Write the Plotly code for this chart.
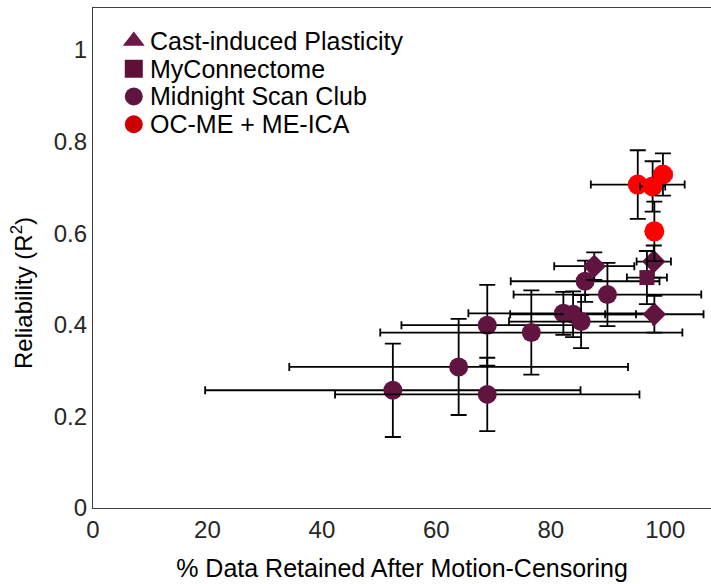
import plotly.graph_objects as go

# ---- data ----
msc_x = [52.4, 63.9, 68.9, 68.9, 76.6, 82.2, 83.9, 85.3, 86.0, 89.9]
msc_y = [0.257, 0.308, 0.248, 0.399, 0.383, 0.425, 0.423, 0.407, 0.495, 0.466]
msc_xerr = [32.8, 29.6, 26.6, 15.0, 26.4, 16.6, 11.0, 12.6, 13.0, 16.4]
msc_yerr = [0.102, 0.105, 0.080, 0.088, 0.092, 0.047, 0.050, 0.058, 0.045, 0.069]

cast_x = [87.6, 98.0, 98.1]
cast_y = [0.528, 0.538, 0.423]
cast_xerr = [7.0, 3.0, 8.6]
cast_yerr = [0.030, 0.035, 0.040]

myc_x = [96.8]
myc_y = [0.503]
myc_xerr = [3.5]
myc_yerr = [0.058]

me_x = [95.2, 97.8, 99.6, 98.1]
me_y = [0.706, 0.702, 0.728, 0.604]
me_xerr = [8.2, 2.2, 1.5, 1.0]
me_yerr = [0.075, 0.055, 0.046, 0.065]

legend_names = ["Cast-induced Plasticity", "MyConnectome", "Midnight Scan Club", "OC-ME + ME-ICA"]
legend_symbols = ["triangle-up", "square", "circle", "circle"]
legend_colors = ["#6a1848", "#5e1038", "#5f1540", "#cc0000"]
legend_sizes = [19, 18, 18, 18]

x_ticks = [0, 20, 40, 60, 80, 100]
y_ticks = [0, 0.2, 0.4, 0.6, 0.8, 1]
y_ticktext = ["0", "0.2", "0.4", "0.6", "0.8", "1"]

PURPLE = "#621440"
RED = "#ff0000"
FONT = "Liberation Sans, Arial, Helvetica, sans-serif"

# legend layout (fractions of the plot area)
LEG_MX = 0.066
LEG_TX = 0.0955
LEG_Y0 = 0.934
LEG_STEP = 0.0555

fig = go.Figure()

def add_group(xs, ys, xe, ye, symbol, color, size):
    for i in range(len(xs)):
        fig.add_trace(go.Scatter(
            x=[xs[i]], y=[ys[i]], mode="markers",
            marker=dict(symbol=symbol, color=color, size=size, opacity=1, line=dict(width=0)),
            error_x=dict(type="data", array=[xe[i]], color="black", thickness=1.8, width=4),
            error_y=dict(type="data", array=[ye[i]], color="black", thickness=1.8, width=8),
            showlegend=False, hoverinfo="skip"))

add_group(msc_x, msc_y, msc_xerr, msc_yerr, "circle", PURPLE, 19)
add_group(cast_x, cast_y, cast_xerr, cast_yerr, "diamond", PURPLE, 18)
add_group(myc_x, myc_y, myc_xerr, myc_yerr, "square", PURPLE, 15)
add_group(me_x, me_y, me_xerr, me_yerr, "circle", RED, 20)

# legend markers on an invisible overlay axis spanning the plot area
leg_y = [LEG_Y0 - i * LEG_STEP for i in range(len(legend_names))]
fig.add_trace(go.Scatter(
    x=[LEG_MX] * len(legend_names), y=leg_y, mode="markers",
    marker=dict(symbol=legend_symbols, color=legend_colors, size=legend_sizes,
                opacity=1, line=dict(width=0)),
    xaxis="x2", yaxis="y2", showlegend=False, hoverinfo="skip"))

annotations = []
for name, yy in zip(legend_names, leg_y):
    annotations.append(dict(
        text=name, x=LEG_TX, y=yy, xref="paper", yref="paper", xshift=-4,
        xanchor="left", yanchor="middle", showarrow=False,
        font=dict(family=FONT, size=25, color="black")))

# y-axis title
annotations.append(dict(
    text="Reliability (R<sup>2</sup>)", x=0, y=0.43, xref="paper", yref="paper",
    xanchor="center", yanchor="middle", xshift=-71, textangle=-90, showarrow=False,
    font=dict(family=FONT, size=24, color="black")))

fig.update_layout(
    width=711, height=584,
    margin=dict(l=93, r=0, t=8, b=76),
    plot_bgcolor="white", paper_bgcolor="white",
    font=dict(family=FONT, size=24, color="#262626"),
    showlegend=False,
    annotations=annotations,
    xaxis=dict(range=[0, 108], tickvals=x_ticks,
               showgrid=False, zeroline=False, showline=True, linecolor="#404040",
               linewidth=1.3, mirror=True, ticks="",
               tickfont=dict(size=24, color="#262626"),
               title=dict(text="% Data Retained After Motion-Censoring", standoff=17,
                          font=dict(size=25, color="black"))),
    yaxis=dict(range=[0, 1.0915], tickvals=y_ticks, ticktext=y_ticktext,
               showgrid=False, zeroline=False, showline=True, linecolor="#404040",
               linewidth=1.3, ticks="",
               tickfont=dict(size=24, color="#262626")),
    xaxis2=dict(overlaying="x", range=[0, 1], visible=False, fixedrange=True),
    yaxis2=dict(overlaying="y", range=[0, 1], visible=False, fixedrange=True),
)

fig.write_html("out.html")
